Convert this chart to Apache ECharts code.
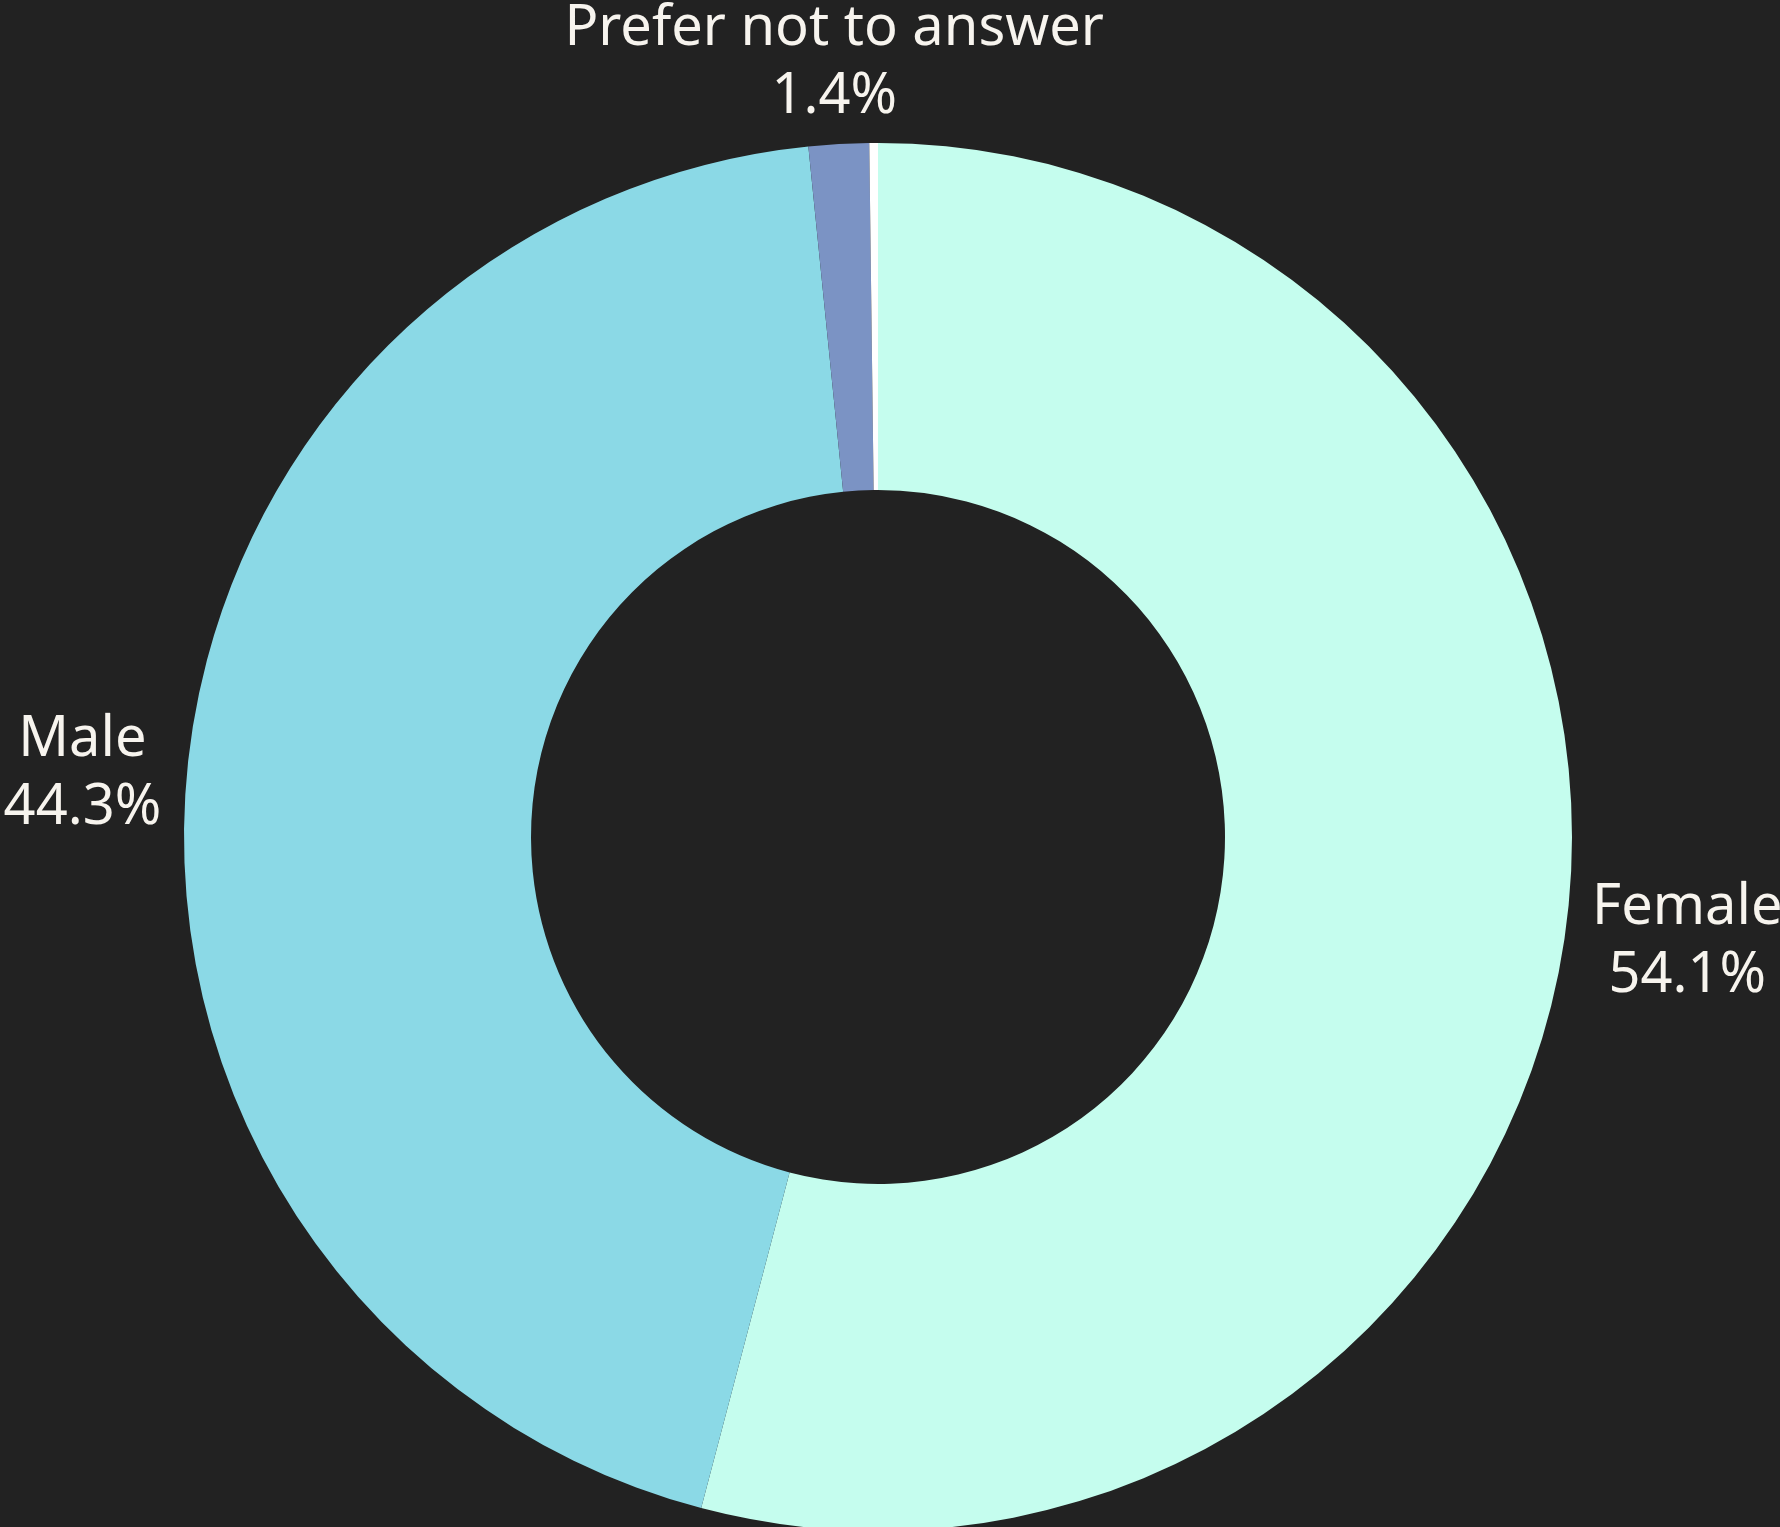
<!DOCTYPE html>
<html>
<head>
<meta charset="utf-8">
<script src="https://cdn.jsdelivr.net/npm/echarts@6/dist/echarts.min.js"></script>
<style>
  html, body { margin: 0; padding: 0; background: #222222; }
  #chart { width: 1780px; height: 1527px; }
</style>
</head>
<body>
<div id="chart"></div>
<script>
// Gender breakdown of respondents (percent of all responses)
const categories = ['Female', 'Male', 'Prefer not to answer', 'Other'];
const shares = [54.1, 44.3, 1.4, 0.2];
const showLabel = [true, true, true, false];
const colors = ['#C5FDEE', '#8BD9E6', '#7B93C4', '#FFFFFF'];

// Ring geometry (pixels)
const CX = 878, CY = 837, R_IN = 347, R_OUT = 694, GAP = 22, V_INSET = 24;

// Mid-angle of each slice, clockwise from 12 o'clock, used to push labels radially outward
const total = shares.reduce((a, b) => a + b, 0);
const midAngles = [];
let cum = 0;
shares.forEach(v => { midAngles.push(((cum + v / 2) / total) * 2 * Math.PI); cum += v; });

const chart = echarts.init(document.getElementById('chart'), null, { renderer: 'canvas' });
chart.setOption({
  backgroundColor: '#222222',
  animation: false,
  series: [{
    type: 'pie',
    center: [CX, CY],
    radius: [R_IN, R_OUT],
    startAngle: 90,
    clockwise: true,
    avoidLabelOverlap: false,
    data: categories.map((name, i) => ({
      name: name,
      value: shares[i],
      itemStyle: { color: colors[i] },
      label: { show: showLabel[i] }
    })),
    itemStyle: { borderWidth: 0 },
    label: {
      position: 'outside',
      color: '#F7F4EE',
      fontFamily: '"Noto Sans", sans-serif',
      fontSize: 56,
      lineHeight: 68,
      formatter: p => p.name + '\n' + p.value.toFixed(1) + '%'
    },
    labelLine: { show: false },
    labelLayout: function (p) {
      const a = midAngles[p.dataIndex];
      const ux = Math.sin(a), uy = -Math.cos(a);
      const hw = p.labelRect.width / 2, hh = p.labelRect.height / 2 - V_INSET;
      const t = R_OUT + GAP + Math.abs(ux) * hw + Math.abs(uy) * hh;
      return { x: CX + ux * t, y: CY + uy * t, align: 'center', verticalAlign: 'middle' };
    },
    emphasis: { disabled: true }
  }]
});
</script>
</body>
</html>
